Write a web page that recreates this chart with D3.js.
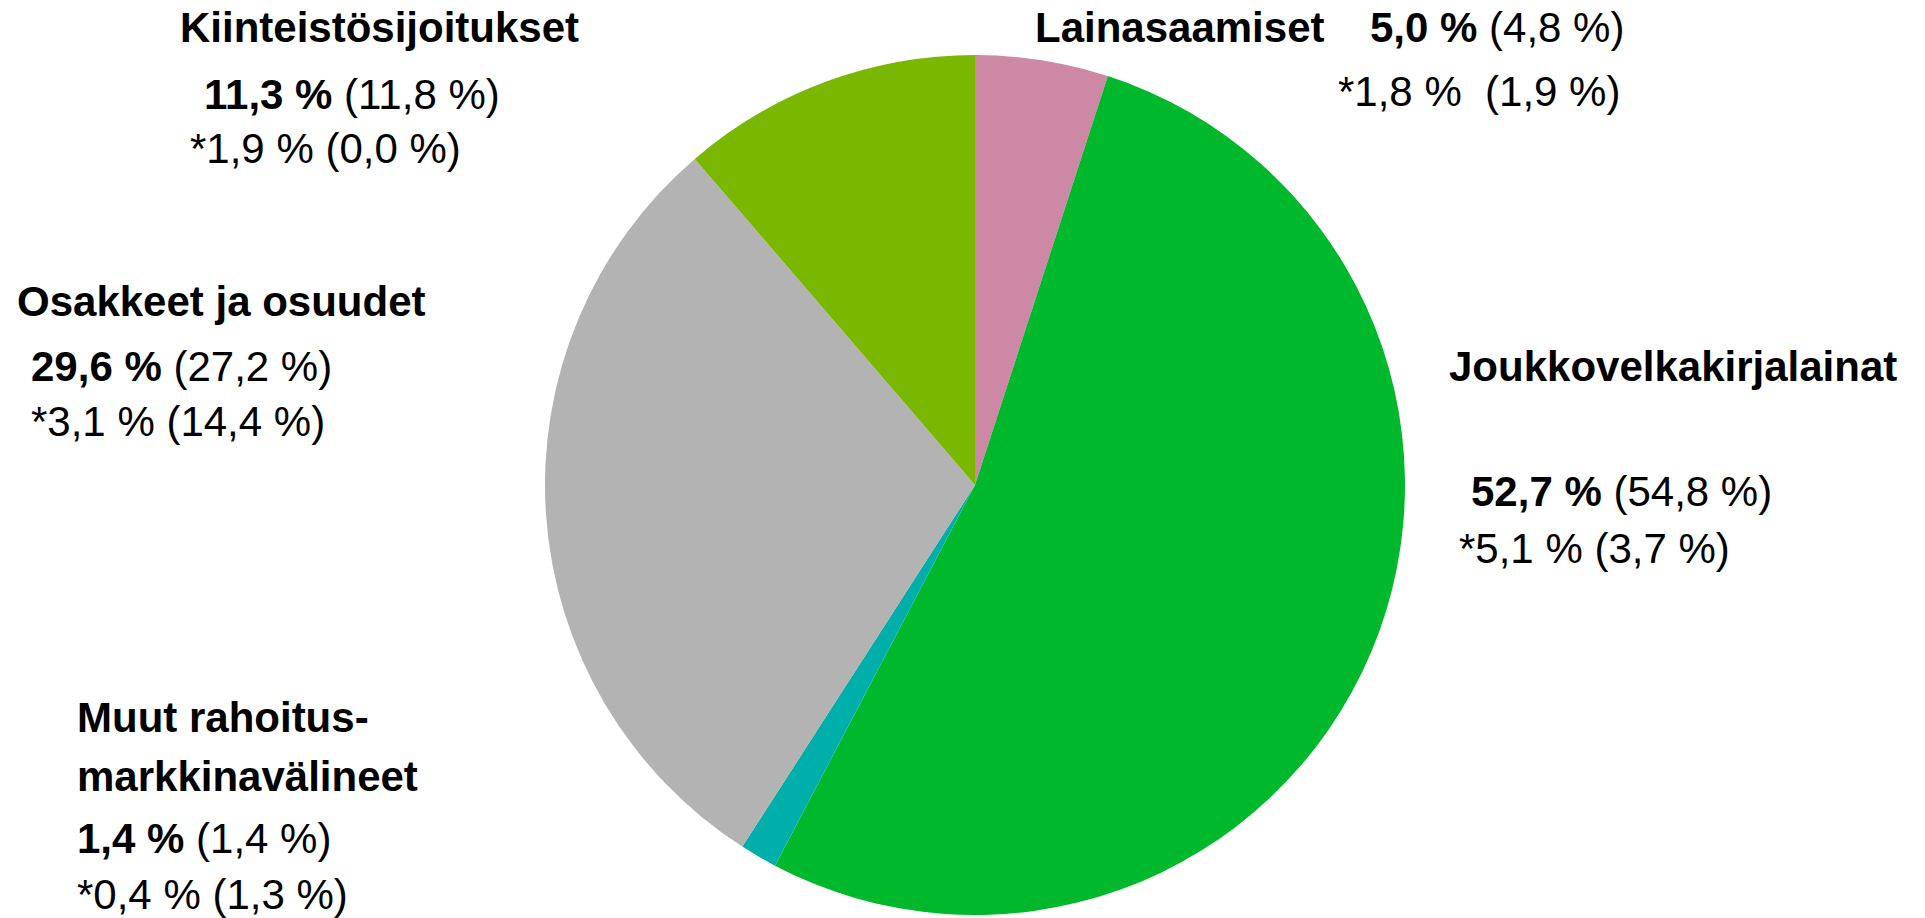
<!DOCTYPE html>
<html>
<head>
<meta charset="utf-8">
<script src="https://cdn.jsdelivr.net/npm/d3@7"></script>
<style>
  body { margin: 0; background: #fff; }
  text { font-family: "Liberation Sans", Arial, sans-serif; font-size: 42px; fill: #000; white-space: pre; }
</style>
</head>
<body>
<div id="chart"></div>
<script>
// data, clockwise from 12 o'clock
var categories = ["Lainasaamiset", "Joukkovelkakirjalainat", "Muut rahoitus-markkinavälineet", "Osakkeet ja osuudet", "Kiinteistösijoitukset"];
var shares     = [5.0, 52.7, 1.4, 29.6, 11.3];
var sharesPrev = [4.8, 54.8, 1.4, 27.2, 11.8];
var starShares = [1.8, 5.1, 0.4, 3.1, 1.9];
var starPrev   = [1.9, 3.7, 1.3, 14.4, 0.0];
var colors     = ["#cc88a4", "#00b82b", "#00afa9", "#b3b3b3", "#7ab700"];

// label placement (name lines, value line, star line)
var labelLayout = [
  { name: [[1035, 42]], value: [1370, 42], star: [1338, 106], gap: "  " },
  { name: [[1449, 381]], value: [1471, 506], star: [1459, 563], gap: " " },
  { name: [[77, 732], [77, 791]], value: [77, 853], star: [77, 909], gap: " " },
  { name: [[17, 316]], value: [31, 381], star: [31, 436], gap: " " },
  { name: [[180, 42]], value: [204, 109], star: [190, 163], gap: " " }
];

var width = 1925,
    height = 918;

var fi = d3.formatLocale({ decimal: ",", thousands: " ", grouping: [3], currency: ["", " €"] });
var f1 = fi.format(".1f");

var svg = d3.select("#chart")
  .append("svg")
  .attr("width", width)
  .attr("height", height);

var data = categories.map(function(c, i) {
  return { name: c, value: shares[i], prev: sharesPrev[i], star: starShares[i], starPrev: starPrev[i], color: colors[i], pos: labelLayout[i] };
});

var pie = d3.pie().sort(null).value(function(d) { return d.value; });
var arc = d3.arc().innerRadius(0).outerRadius(430);

var g = svg.append("g").attr("transform", "translate(975,485)");

g.selectAll("path")
  .data(pie(data))
  .enter().append("path")
  .attr("d", arc)
  .attr("fill", function(d) { return d.data.color; });

var labels = svg.selectAll(".lbl")
  .data(data)
  .enter().append("g")
  .attr("class", "lbl");

labels.each(function(d) {
  var el = d3.select(this);
  var nameLines = d.pos.name.length > 1 ? d.name.replace("-", "-\n").split("\n") : [d.name];
  nameLines.forEach(function(t, j) {
    el.append("text")
      .attr("x", d.pos.name[j][0])
      .attr("y", d.pos.name[j][1])
      .attr("font-weight", "bold")
      .text(t);
  });
  var v = el.append("text")
    .attr("x", d.pos.value[0])
    .attr("y", d.pos.value[1]);
  v.append("tspan").attr("font-weight", "bold").text(f1(d.value) + " %");
  v.append("tspan").text(" (" + f1(d.prev) + " %)");
  el.append("text")
    .attr("x", d.pos.star[0])
    .attr("y", d.pos.star[1])
    .text("*" + f1(d.star) + " %" + d.pos.gap + "(" + f1(d.starPrev) + " %)");
});
</script>
</body>
</html>
